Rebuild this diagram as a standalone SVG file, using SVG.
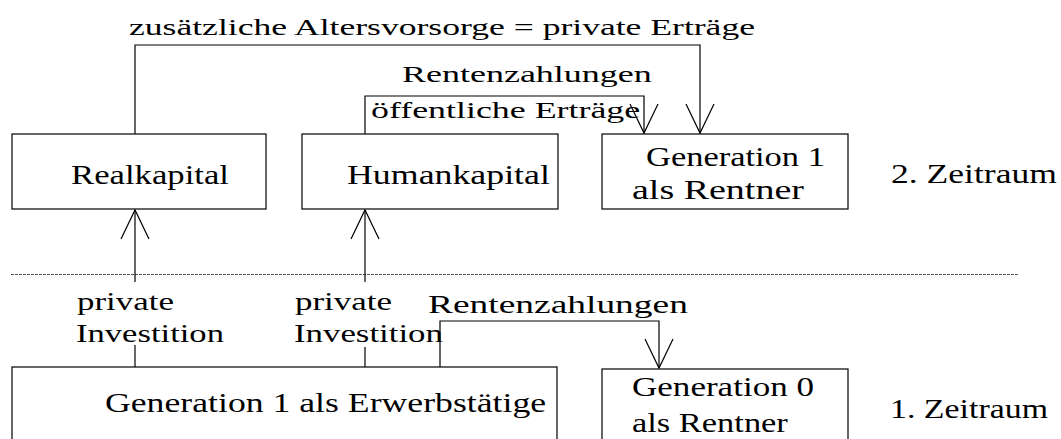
<svg xmlns="http://www.w3.org/2000/svg" width="1061" height="439" viewBox="0 0 1061 439">
<defs>
<style>
.box{fill:#fff;stroke:#000;stroke-width:1.2}
.ln{fill:none;stroke:#000;stroke-width:1.2}
text{font-family:'Liberation Serif','Times New Roman',serif;fill:#000}
.s{font-size:24px}
.m{font-size:28px}
.p{font-size:26px}
</style>
<marker id="ah" markerUnits="userSpaceOnUse" markerWidth="40" markerHeight="40" refX="0" refY="0" orient="auto" overflow="visible">
<path d="M-29,-14 L0,0 L-29,14" fill="none" stroke="#000" stroke-width="1.2"/>
</marker>
</defs>
<rect width="1061" height="439" fill="#fff"/>
<line x1="11" y1="274.5" x2="1019" y2="274.5" stroke="#555" stroke-width="1" stroke-dasharray="3,1"/>
<g id="connectors">
<path class="ln" d="M135,134 V45 H700 V133" marker-end="url(#ah)"/>
<path class="ln" d="M365,134 V96 H644 V133" marker-end="url(#ah)"/>
<path class="ln" d="M135,367 V345"/>
<path class="ln" d="M135,282 V210" marker-end="url(#ah)"/>
<path class="ln" d="M365,367 V347"/>
<path class="ln" d="M365,282 V210" marker-end="url(#ah)"/>
<path class="ln" d="M440,367 V321 H659 V368" marker-end="url(#ah)"/>
</g>
<g id="node-realkapital">
<rect class="box" x="12" y="134" width="254" height="75"/>
<text class="m" transform="translate(71,184) scale(1.239,1)">Realkapital</text>
</g>
<g id="node-humankapital">
<rect class="box" x="302" y="134" width="256" height="75"/>
<text class="m" transform="translate(347,184) scale(1.28,1)">Humankapital</text>
</g>
<g id="node-gen1-rentner">
<rect class="box" x="602" y="134" width="246" height="75"/>
<text class="m" transform="translate(646,166) scale(1.231,1)">Generation 1</text>
<text class="m" transform="translate(632,199) scale(1.357,1)">als Rentner</text>
</g>
<g id="node-gen1-erwerb">
<rect class="box" x="12" y="367" width="545" height="100"/>
<text class="m" transform="translate(105,412) scale(1.275,1)">Generation 1 als Erwerbstätige</text>
</g>
<g id="node-gen0-rentner">
<rect class="box" x="602" y="369" width="246" height="100"/>
<text class="m" transform="translate(632,396) scale(1.252,1)">Generation 0</text>
<text class="m" transform="translate(632,432) scale(1.23,1)">als Rentner</text>
</g>
<g id="labels">
<text class="s" transform="translate(129,35) scale(1.483,1)">zusätzliche Altersvorsorge = private Erträge</text>
<text class="s" transform="translate(402,82) scale(1.5,1)">Rentenzahlungen</text>
<text class="s" transform="translate(371,118) scale(1.495,1)">öffentliche Erträge</text>
<text class="m" transform="translate(891,183) scale(1.271,1)">2. Zeitraum</text>
<text class="p" transform="translate(77,310) scale(1.343,1)">private</text>
<text class="p" transform="translate(76,342) scale(1.331,1)">Investition</text>
<text class="p" transform="translate(295,310) scale(1.343,1)">private</text>
<text class="p" transform="translate(294,342) scale(1.34,1)">Investition</text>
<text class="s" transform="translate(428,313) scale(1.498,1)" style="font-size:25px">Rentenzahlungen</text>
<text class="m" transform="translate(890,418) scale(1.21,1)">1. Zeitraum</text>
</g>
</svg>
